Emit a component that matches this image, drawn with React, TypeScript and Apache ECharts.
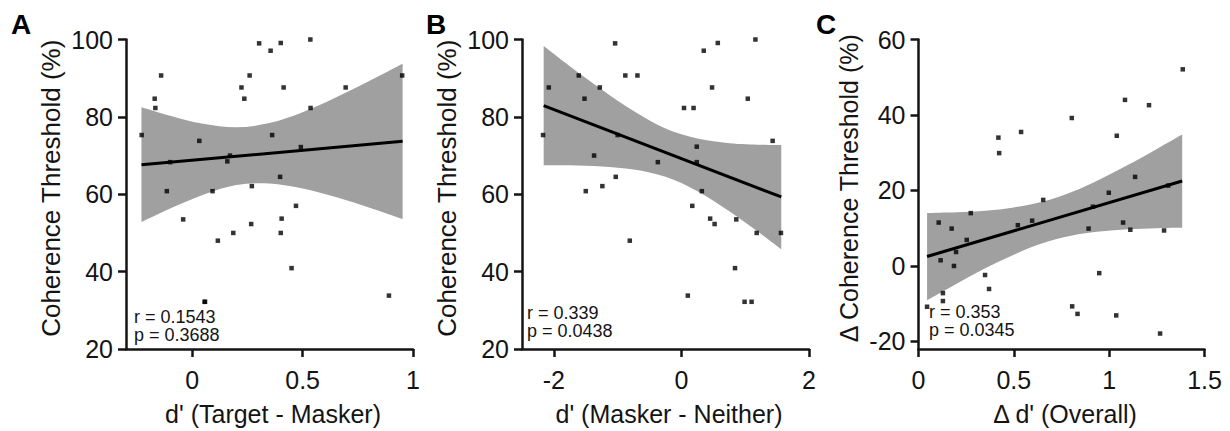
import { useEffect, useRef } from 'react';
import * as echarts from 'echarts';

// ---------- Data ----------
// Panel A: d' (Target - Masker) vs Coherence Threshold (%)
const aX = [-0.229, -0.17, -0.167, -0.141, -0.115, -0.1, -0.041, 0.032, 0.056, 0.058, 0.092, 0.116, 0.159, 0.171, 0.186, 0.223, 0.236, 0.26, 0.27, 0.267, 0.303, 0.355, 0.362, 0.401, 0.398, 0.405, 0.401, 0.414, 0.45, 0.47, 0.492, 0.535, 0.536, 0.695, 0.891, 0.951];
const aY = [75.3, 84.7, 82.3, 90.7, 60.8, 68.3, 53.5, 73.8, 32.2, 32.2, 60.8, 48.0, 68.5, 70.0, 50.0, 87.6, 84.7, 90.7, 62.1, 52.3, 99.0, 97.1, 75.3, 99.1, 64.5, 53.7, 50.0, 87.6, 40.9, 57.0, 72.2, 100.0, 82.3, 87.6, 33.8, 90.7];
const aBandX = [-0.23, -0.1, 0.05, 0.2, 0.35, 0.5, 0.65, 0.8, 0.953];
const aBandUp = [82.5, 80.3, 78.2, 77.3, 78.4, 81.2, 85.0, 89.2, 93.7];
const aBandLo = [52.8, 56.3, 59.9, 62.4, 62.8, 61.5, 59.3, 56.6, 53.6];
const aFitX = [-0.23, 0.953];
const aFitY = [67.6, 73.7];

// Panel B: d' (Masker - Neither) vs Coherence Threshold (%)
const bX = [-2.17, -2.08, -1.61, -1.52, -1.5, -1.37, -1.28, -1.24, -1.04, -1.03, -1.0, -0.88, -0.81, -0.69, -0.37, 0.04, 0.1, 0.17, 0.19, 0.24, 0.24, 0.32, 0.35, 0.45, 0.48, 0.52, 0.57, 0.84, 0.86, 0.99, 1.04, 1.1, 1.16, 1.18, 1.43, 1.56];
const bY = [75.3, 87.6, 90.7, 84.7, 60.8, 70.0, 87.6, 62.1, 99.0, 64.5, 75.3, 90.7, 48.0, 90.7, 68.3, 82.3, 33.8, 57.0, 82.3, 72.3, 68.3, 60.8, 97.1, 53.7, 87.6, 52.3, 99.1, 40.9, 53.5, 32.2, 84.7, 32.2, 100.0, 50.0, 73.8, 50.0];
const bBandX = [-2.16, -1.75, -1.25, -0.75, -0.25, 0.25, 0.75, 1.25, 1.565];
const bBandUp = [98.3, 93.1, 87.1, 81.5, 77.0, 74.4, 73.2, 72.8, 72.7];
const bBandLo = [67.5, 67.5, 67.2, 66.4, 64.5, 60.8, 55.6, 49.7, 45.8];
const bFitX = [-2.16, 1.565];
const bFitY = [82.9, 59.3];

// Panel C: Δ d' (Overall) vs Δ Coherence Threshold (%)
const cX = [0.045, 0.106, 0.116, 0.128, 0.128, 0.174, 0.186, 0.197, 0.253, 0.274, 0.349, 0.37, 0.419, 0.423, 0.521, 0.538, 0.596, 0.654, 0.804, 0.806, 0.834, 0.892, 0.915, 0.948, 0.998, 1.037, 1.04, 1.073, 1.083, 1.111, 1.136, 1.209, 1.267, 1.288, 1.31, 1.386];
const cY = [-10.8, 11.5, 1.5, -7.2, -9.3, 9.9, 0.0, 3.7, 6.9, 14.0, -2.4, -6.1, 34.0, 29.9, 10.8, 35.5, 12.0, 17.5, 39.2, -10.7, -12.7, 9.9, 15.7, -1.9, 19.4, -13.1, 34.5, 11.5, 44.0, 9.6, 23.6, 42.6, -17.9, 9.4, 21.3, 52.1];
const cBandX = [0.045, 0.2, 0.35, 0.5, 0.65, 0.8, 0.95, 1.1, 1.25, 1.383];
const cBandUp = [14.0, 14.2, 14.6, 15.5, 17.0, 19.5, 22.9, 26.8, 31.0, 34.8];
const cBandLo = [-9.1, -4.7, -0.6, 3.0, 6.0, 8.0, 9.1, 9.7, 10.0, 10.1];
const cFitX = [0.045, 1.383];
const cFitY = [2.5, 22.5];

// Tick labels
const aXTicks = [0, 0.5, 1];
const bXTicks = [-2, 0, 2];
const cXTicks = [0, 0.5, 1, 1.5];
const abYTicks = [20, 40, 60, 80, 100];
const cYTicks = [-20, 0, 20, 40, 60];

const panelLetters = ['A', 'B', 'C'];
const statTexts = ['r = 0.1543\np = 0.3688', 'r = 0.339\np = 0.0438', 'r = 0.353\np = 0.0345'];
const xNames = ["d' (Target - Masker)", "d' (Masker - Neither)", "Δ d' (Overall)"];
const yNames = ['Coherence Threshold (%)', 'Coherence Threshold (%)', 'Δ Coherence Threshold (%)'];

// ---------- Styling ----------
const FONT = '"Liberation Sans", Arial, Helvetica, sans-serif';
const INK = '#141414';
const BAND = '#a0a0a0';

const pair = (xs: number[], ys: number[]) => xs.map((x, k) => [x, ys[k]]);

// Smooth (Catmull-Rom) path segments through pixel points, as cubic Béziers
function smoothSegments(pts: number[][]): string {
  let d = '';
  const n = pts.length;
  for (let i = 0; i < n - 1; i++) {
    const p0 = pts[Math.max(0, i - 1)];
    const p1 = pts[i];
    const p2 = pts[i + 1];
    const p3 = pts[Math.min(n - 1, i + 2)];
    const c1x = p1[0] + (p2[0] - p0[0]) / 6;
    const c1y = p1[1] + (p2[1] - p0[1]) / 6;
    const c2x = p2[0] - (p3[0] - p1[0]) / 6;
    const c2y = p2[1] - (p3[1] - p1[1]) / 6;
    d += ` C${c1x.toFixed(2)},${c1y.toFixed(2)} ${c2x.toFixed(2)},${c2y.toFixed(2)} ${p2[0].toFixed(2)},${p2[1].toFixed(2)}`;
  }
  return d;
}

function bandSeries(i: number, bx: number[], bu: number[], bl: number[]) {
  return {
    type: 'custom', coordinateSystem: 'cartesian2d', xAxisIndex: i, yAxisIndex: i,
    data: [[bx[0], bu[0]]], silent: true, z: 1,
    renderItem: (_params: any, api: any) => {
      const up = bx.map((x, k) => api.coord([x, bu[k]]));
      const lo = bx.map((x, k) => api.coord([x, bl[k]])).reverse();
      const d = `M${up[0][0].toFixed(2)},${up[0][1].toFixed(2)}` + smoothSegments(up)
        + ` L${lo[0][0].toFixed(2)},${lo[0][1].toFixed(2)}` + smoothSegments(lo) + ' Z';
      return { type: 'path', shape: { pathData: d }, style: { fill: BAND, stroke: 'none' } };
    },
  };
}

function panelSeries(i: number, px: number[], py: number[], bx: number[], bu: number[], bl: number[], fx: number[], fy: number[]) {
  return [
    bandSeries(i, bx, bu, bl),
    {
      type: 'line', xAxisIndex: i, yAxisIndex: i, data: pair(fx, fy), symbol: 'none',
      lineStyle: { color: '#000', width: 3 }, silent: true, z: 2,
    },
    {
      type: 'scatter', xAxisIndex: i, yAxisIndex: i, data: pair(px, py), symbol: 'rect', symbolSize: 4.5,
      itemStyle: { color: '#000' }, silent: true, z: 3,
    },
  ];
}

const grids = [
  { left: 126, top: 39.5, width: 287, height: 309.5 },
  { left: 522, top: 39.5, width: 287, height: 309.5 },
  { left: 918.5, top: 39.5, width: 286, height: 309.8 },
];

function xAxis(i: number, min: number, max: number, ticks: number[]) {
  return {
    gridIndex: i, type: 'value', min, max, z: 10,
    axisLine: { show: true, onZero: false, lineStyle: { color: INK, width: 2.5 } },
    axisTick: { show: true, inside: false, length: 8, customValues: ticks, lineStyle: { color: INK, width: 2.5 } },
    axisLabel: { customValues: ticks, margin: 18, fontSize: 25, color: INK, fontFamily: FONT },
    splitLine: { show: false },
    name: xNames[i], nameLocation: 'middle', nameGap: 52,
    nameTextStyle: { fontSize: 25, color: INK, fontFamily: FONT, padding: [0, 0, 0, 7] },
  };
}

function yAxis(i: number, min: number, max: number, ticks: number[], gap: number, nameSize: number) {
  return {
    gridIndex: i, type: 'value', min, max, z: 10,
    axisLine: { show: true, onZero: false, lineStyle: { color: INK, width: 2.5 } },
    axisTick: { show: true, inside: false, length: 8, customValues: ticks, lineStyle: { color: INK, width: 2.5 } },
    axisLabel: { customValues: ticks, margin: 13, fontSize: 25, color: INK, fontFamily: FONT },
    splitLine: { show: false },
    name: yNames[i], nameLocation: 'middle', nameGap: gap,
    nameTextStyle: { fontSize: nameSize, color: INK, fontFamily: FONT, padding: [0, 0, 0, 12] },
  };
}

export default function App() {
  const ref = useRef<HTMLDivElement>(null);
  useEffect(() => {
    if (!ref.current) return;
    const chart = echarts.init(ref.current, undefined, { renderer: 'svg' });
    const letterPos = [11, 426, 816];
    const statLeft = [134, 527, 929];
    const statTop = [307.5, 303.5, 303];
    chart.setOption({
      animation: false,
      backgroundColor: '#fff',
      grid: grids,
      xAxis: [xAxis(0, -0.3, 1, aXTicks), xAxis(1, -2.5, 2, bXTicks), xAxis(2, 0, 1.5, cXTicks)],
      yAxis: [
        yAxis(0, 20, 100, abYTicks, 62, 26),
        yAxis(1, 20, 100, abYTicks, 62, 26),
        yAxis(2, -22, 60, cYTicks, 57, 25),
      ],
      series: [
        ...panelSeries(0, aX, aY, aBandX, aBandUp, aBandLo, aFitX, aFitY),
        ...panelSeries(1, bX, bY, bBandX, bBandUp, bBandLo, bFitX, bFitY),
        ...panelSeries(2, cX, cY, cBandX, cBandUp, cBandLo, cFitX, cFitY),
      ],
      graphic: [
        ...panelLetters.map((t, i) => ({
          type: 'text', left: letterPos[i], top: 10, z: 100,
          style: { text: t, fontSize: 28, fontWeight: 'bold', fontFamily: FONT, fill: '#000' },
        })),
        ...statTexts.map((t, i) => ({
          type: 'text', left: statLeft[i], top: statTop[i], z: 100,
          style: { text: t, fontSize: 18, lineHeight: 18, fontFamily: FONT, fill: INK },
        })),
      ],
    });
    return () => chart.dispose();
  }, []);
  return <div ref={ref} style={{ position: 'fixed', left: 0, top: 0, width: 1230, height: 431, background: '#fff' }} />;
}
